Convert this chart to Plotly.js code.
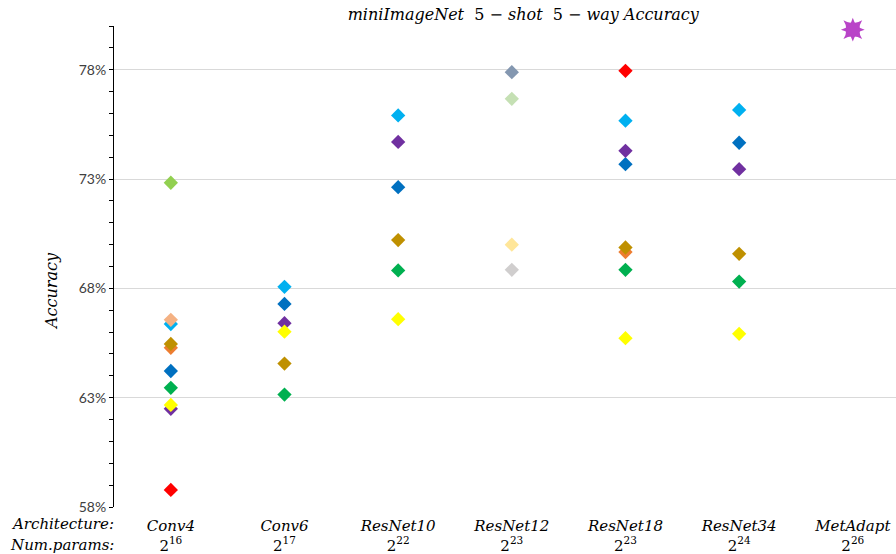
<!DOCTYPE html>
<html>
<head>
<meta charset="utf-8">
<script src="https://cdn.plot.ly/plotly-3.0.1.min.js"></script>
<style>html,body{margin:0;padding:0;background:#fff}#chart{width:896px;height:554px}</style>
</head>
<body>
<div id="chart"></div>
<script>
// Architectures (x categories) and parameter counts (powers of 2)
const architectures = ["Conv4", "Conv6", "ResNet10", "ResNet12", "ResNet18", "ResNet34", "MetAdapt"];
const paramExponents = [16, 17, 22, 23, 23, 24, 26];

// Accuracy (%) per method series, one value per architecture (null = not reported)
const lightBlueVals  = [66.37, 68.07, 75.91, null, 75.67, 76.16, null];
const peachVals      = [66.56, null, null, null, null, null, null];
const orangeVals     = [65.28, null, null, null, 69.66, null, null];
const goldVals       = [65.46, 64.56, 70.21, null, 69.87, 69.58, null];
const blueVals       = [64.22, 67.29, 72.63, null, 73.68, 74.66, null];
const greenVals      = [63.45, 63.14, 68.82, null, 68.85, 68.31, null];
const purpleVals     = [62.49, 66.41, 74.70, null, 74.29, 73.45, null];
const yellowVals     = [62.67, 66.02, 66.59, null, 65.72, 65.92, null];
const redVals        = [58.78, null, null, null, 77.95, null, null];
const limeVals       = [72.83, null, null, null, null, null, null];
const slateVals      = [null, null, null, 77.89, null, null, null];
const paleGreenVals  = [null, null, null, 76.67, null, null, null];
const paleYellowVals = [null, null, null, 70.00, null, null, null];
const paleGreyVals   = [null, null, null, 68.85, null, null, null];
const metAdaptVals   = [null, null, null, null, null, null, 79.83];

const seriesList = [
  {name: "s1", vals: lightBlueVals, color: "#00B0F0"},
  {name: "s2", vals: peachVals, color: "#F4B183"},
  {name: "s3", vals: orangeVals, color: "#ED7D31"},
  {name: "s4", vals: goldVals, color: "#BF9000"},
  {name: "s5", vals: blueVals, color: "#0070C0"},
  {name: "s6", vals: greenVals, color: "#00B050"},
  {name: "s7", vals: purpleVals, color: "#7030A0"},
  {name: "s8", vals: yellowVals, color: "#FFFF00"},
  {name: "s9", vals: redVals, color: "#FF0000"},
  {name: "s10", vals: limeVals, color: "#92D050"},
  {name: "s11", vals: slateVals, color: "#8497B0"},
  {name: "s12", vals: paleGreenVals, color: "#C5E0B4"},
  {name: "s13", vals: paleYellowVals, color: "#FFE699"},
  {name: "s14", vals: paleGreyVals, color: "#D0CECE"}
];

const xs = architectures.map((a, i) => i);
const traces = seriesList.map(s => ({
  type: "scatter", mode: "markers", name: s.name,
  x: xs, y: s.vals, cliponaxis: false,
  marker: {symbol: "diamond", size: 11, color: s.color, line: {width: 0}},
  showlegend: false, hoverinfo: "y"
}));
// MetAdapt starburst: two overlaid 4-point stars form an 8-point star
const starColor = "#B944C8";
["star-square", "star-diamond"].forEach(sym => {
  traces.push({
    type: "scatter", mode: "markers", x: xs, y: metAdaptVals, cliponaxis: false,
    marker: {symbol: sym, size: 17, color: starColor, line: {width: 0}},
    showlegend: false, hoverinfo: "y"
  });
});
traces.push({
  type: "scatter", mode: "markers", x: xs, y: metAdaptVals, cliponaxis: false,
  marker: {symbol: "circle", size: 12, color: starColor, line: {width: 0}},
  showlegend: false, hoverinfo: "skip"
});

const serif = "DejaVu Serif, Liberation Serif, serif";
const tickText = architectures.map((a, i) => "<i>" + a + "</i><br>2<sup>" + paramExponents[i] + "</sup>");

const layout = {
  width: 896, height: 554,
  margin: {l: 114, r: 0, t: 26, b: 47, pad: 0},
  paper_bgcolor: "#ffffff", plot_bgcolor: "#ffffff",
  title: {
    text: "<i>miniImageNet</i>  5 − <i>shot</i>  5 − <i>way Accuracy</i>",
    font: {family: serif, size: 16, color: "#000"},
    x: 0.584, xanchor: "center", y: 0.985, yanchor: "top"
  },
  xaxis: {
    range: [-0.5, 6.38],
    tickmode: "array", tickvals: xs, ticktext: tickText,
    showgrid: false, zeroline: false, showline: false, ticks: "",
    ticklabelstandoff: 8,
    tickfont: {family: serif, size: 15, color: "#000"},
    fixedrange: true
  },
  yaxis: {
    range: [58, 80],
    tick0: 58, dtick: 5, ticksuffix: "%",
    showgrid: true, gridcolor: "#D9D9D9", gridwidth: 1,
    zeroline: false, showline: true, linecolor: "#000", linewidth: 1,
    ticks: "outside", ticklen: 4, tickcolor: "#000",
    minor: {dtick: 1, ticks: "outside", ticklen: 4, tickcolor: "#000", showgrid: false},
    tickfont: {family: "Lato, Open Sans, sans-serif", size: 14, color: "#404040"},
    fixedrange: true
  },
  annotations: [
    {text: "<i>Accuracy</i>", xref: "paper", yref: "y", x: -0.080, y: 67.9, xanchor: "center", yanchor: "middle", textangle: -90, showarrow: false, font: {family: serif, size: 16, color: "#000"}},
    {text: "<i>Architecture:</i>", xref: "paper", yref: "paper", x: 0.003, y: -0.013, xanchor: "right", yanchor: "top", showarrow: false, font: {family: serif, size: 15, color: "#000"}},
    {text: "<i>Num.params:</i>", xref: "paper", yref: "paper", x: 0.003, y: -0.056, xanchor: "right", yanchor: "top", showarrow: false, font: {family: serif, size: 15, color: "#000"}}
  ]
};

Plotly.newPlot("chart", traces, layout, {displayModeBar: false, staticPlot: true});
</script>
</body>
</html>
